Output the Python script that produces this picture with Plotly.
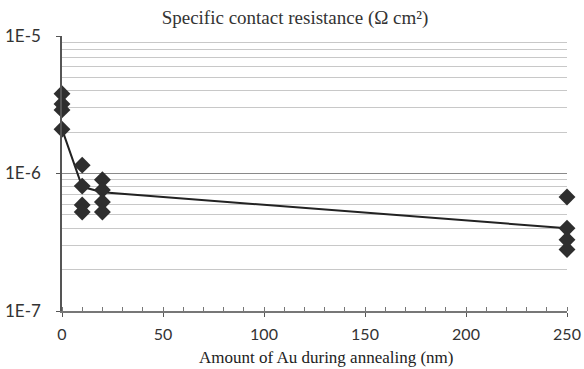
import plotly.graph_objects as go

# Data
pts_x = [0, 0, 0, 0, 10, 10, 10, 10, 20, 20, 20, 20, 250, 250, 250, 250]
pts_y = [3.8e-6, 3.2e-6, 2.9e-6, 2.1e-6,
         1.15e-6, 8.1e-7, 5.9e-7, 5.25e-7,
         9.0e-7, 7.6e-7, 6.2e-7, 5.25e-7,
         6.75e-7, 4.0e-7, 3.3e-7, 2.8e-7]
line_x = [0, 10, 20, 250]
line_y = [2.1e-6, 8.0e-7, 7.3e-7, 4.0e-7]

x_ticks = [0, 50, 100, 150, 200, 250]
y_ticks = [1e-7, 1e-6, 1e-5]
y_ticklabels = ["1E-7", "1E-6", "1E-5"]
y_minor = [m * 10 ** e for e in (-7, -6) for m in range(2, 10)]

fig = go.Figure()
fig.add_trace(go.Scatter(x=line_x, y=line_y, mode="lines",
                         line=dict(color="#222222", width=2),
                         cliponaxis=False, showlegend=False))
fig.add_trace(go.Scatter(x=pts_x, y=pts_y, mode="markers",
                         marker=dict(symbol="diamond", size=13, color="#2e2e2e"),
                         cliponaxis=False, showlegend=False))

fig.update_layout(
    width=584, height=369,
    margin=dict(l=62, r=17, t=36, b=58, autoexpand=False),
    paper_bgcolor="white", plot_bgcolor="white",
    title=dict(text="Specific contact resistance (Ω cm²)",
               font=dict(family="Liberation Serif", size=19, color="#333333"),
               x=295 / 584, xanchor="center", y=1 - 17 / 369, yanchor="middle"),
    annotations=[dict(text="Amount of Au during annealing (nm)",
                      xref="paper", yref="paper",
                      x=(326 - 62) / 505, y=-(357 - 311) / 275,
                      xanchor="center", yanchor="middle", showarrow=False,
                      font=dict(family="Liberation Serif", size=17, color="#222222"))],
)
fig.update_xaxes(range=[0, 250], tickvals=x_ticks, showgrid=False, zeroline=False,
                 automargin=False,
                 showline=True, linecolor="#777777", linewidth=1.5,
                 ticks="outside", ticklen=4, tickcolor="#555555",
                 ticklabelstandoff=4,
                 tickfont=dict(family="Lato", size=16, color="#333333"),
                 minor=dict(dtick=10, ticks="inside", ticklen=4, tickcolor="#777777"))
fig.update_yaxes(type="log", range=[-7, -5], tickvals=y_ticks, ticktext=y_ticklabels,
                 automargin=False,
                 showgrid=True, gridcolor="#8a8a8a", gridwidth=1, zeroline=False,
                 showline=True, linecolor="#555555", linewidth=1.5,
                 ticks="outside", ticklen=4, tickcolor="#555555",
                 ticklabelstandoff=12,
                 tickfont=dict(family="Lato", size=17, color="#333333"),
                 minor=dict(tickvals=y_minor, showgrid=True, gridcolor="#c8c8c8",
                            gridwidth=1, ticks=""))

fig.write_html("out.html", config={"displayModeBar": False},
               post_script="document.body.style.margin='0';document.body.style.overflow='hidden';")
